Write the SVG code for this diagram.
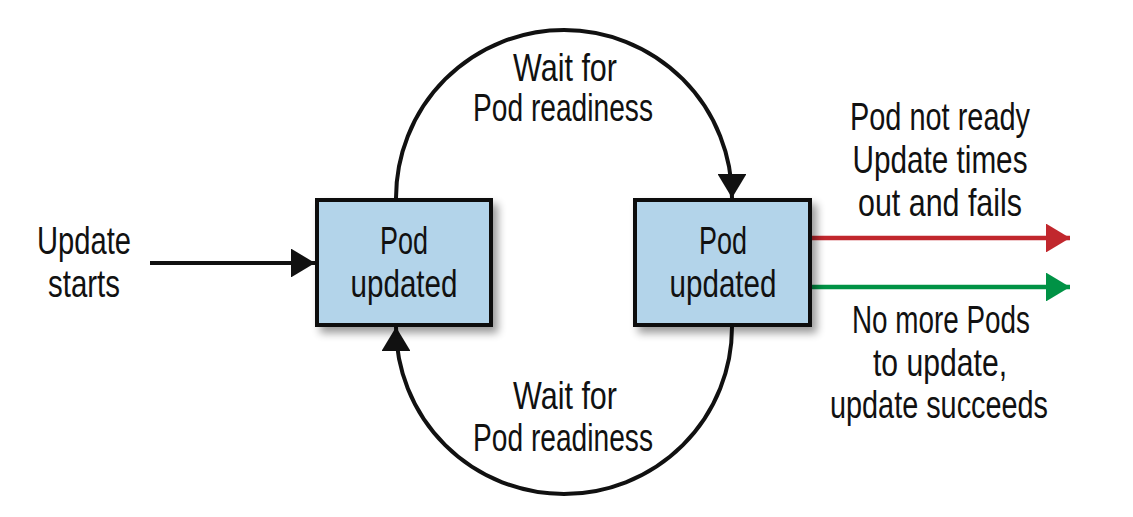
<svg xmlns="http://www.w3.org/2000/svg" width="1133" height="517" viewBox="0 0 1133 517">
<style>
text{font-family:"Liberation Sans",Arial,sans-serif;font-size:39px;fill:#111;text-anchor:middle}
.box{fill:#b3d4ea;stroke:#111;stroke-width:4}
.k{fill:none;stroke:#111;stroke-width:4}
</style>
<defs>
<filter id="sh" x="-20%" y="-20%" width="150%" height="150%">
<feGaussianBlur in="SourceAlpha" stdDeviation="4"/>
<feOffset dx="5" dy="6" result="b"/>
<feComponentTransfer><feFuncA type="linear" slope="0.4"/></feComponentTransfer>
<feMerge><feMergeNode/><feMergeNode in="SourceGraphic"/></feMerge>
</filter>
<marker id="ak" viewBox="0 0 10 12" refX="10" refY="6" markerWidth="6" markerHeight="7.2" orient="auto" markerUnits="strokeWidth"><path d="M0,0 L10,6 L0,12 Z" fill="#111"/></marker>
<marker id="ar" viewBox="0 0 10 12" refX="10" refY="6" markerWidth="5.6" markerHeight="6.4" orient="auto" markerUnits="strokeWidth"><path d="M0,0 L10,6 L0,12 Z" fill="#c1272d"/></marker>
<marker id="ag" viewBox="0 0 10 12" refX="10" refY="6" markerWidth="5.6" markerHeight="6.4" orient="auto" markerUnits="strokeWidth"><path d="M0,0 L10,6 L0,12 Z" fill="#009245"/></marker>
</defs>
<g id="connectors">
<path class="k" d="M150,263 L315,263" marker-end="url(#ak)"/>
<path class="k" d="M396,198 A168,168 0 0 1 732,198" marker-end="url(#ak)"/>
<path class="k" d="M732,327 A168,167 0 0 1 396,327" marker-end="url(#ak)"/>
<path fill="none" stroke="#c1272d" stroke-width="4.5" d="M810,238 L1070,238" marker-end="url(#ar)"/>
<path fill="none" stroke="#009245" stroke-width="4.5" d="M810,287 L1070,287" marker-end="url(#ag)"/>
</g>
<g id="node-left">
<rect class="box" x="317" y="200" width="174" height="125" filter="url(#sh)"/>
<text x="404" y="254" textLength="48" lengthAdjust="spacingAndGlyphs">Pod</text>
<text x="404" y="297" textLength="107" lengthAdjust="spacingAndGlyphs">updated</text>
</g>
<g id="node-right">
<rect class="box" x="635" y="200" width="175" height="125" filter="url(#sh)"/>
<text x="723" y="254" textLength="48" lengthAdjust="spacingAndGlyphs">Pod</text>
<text x="723" y="297" textLength="107" lengthAdjust="spacingAndGlyphs">updated</text>
</g>
<g id="labels">
<text x="84" y="254" textLength="94" lengthAdjust="spacingAndGlyphs">Update</text>
<text x="84" y="297" textLength="72" lengthAdjust="spacingAndGlyphs">starts</text>
<text x="565" y="81" textLength="104" lengthAdjust="spacingAndGlyphs">Wait for</text>
<text x="563" y="121" textLength="180" lengthAdjust="spacingAndGlyphs">Pod readiness</text>
<text x="565" y="409" textLength="104" lengthAdjust="spacingAndGlyphs">Wait for</text>
<text x="563" y="451" textLength="180" lengthAdjust="spacingAndGlyphs">Pod readiness</text>
<text x="940" y="130" textLength="180" lengthAdjust="spacingAndGlyphs">Pod not ready</text>
<text x="940" y="173" textLength="175" lengthAdjust="spacingAndGlyphs">Update times</text>
<text x="940" y="216" textLength="164" lengthAdjust="spacingAndGlyphs">out and fails</text>
<text x="941" y="333" textLength="178" lengthAdjust="spacingAndGlyphs">No more Pods</text>
<text x="940" y="376" textLength="134" lengthAdjust="spacingAndGlyphs">to update,</text>
<text x="939" y="418" textLength="218" lengthAdjust="spacingAndGlyphs">update succeeds</text>
</g>
</svg>
